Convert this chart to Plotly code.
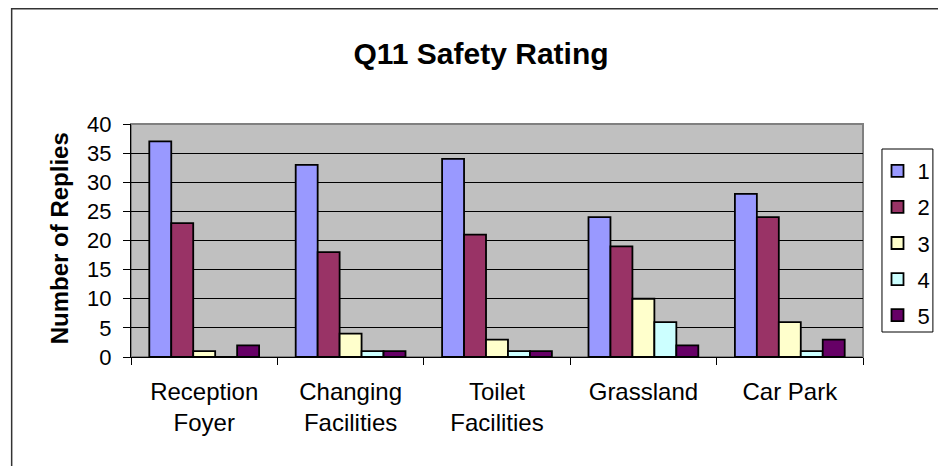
import plotly.graph_objects as go

# Data
categories = ["Reception<br>Foyer", "Changing<br>Facilities", "Toilet<br>Facilities", "Grassland", "Car Park"]
rating_1 = [37, 33, 34, 24, 28]
rating_2 = [23, 18, 21, 19, 24]
rating_3 = [1, 4, 3, 10, 6]
rating_4 = [0, 1, 1, 6, 1]
rating_5 = [2, 1, 1, 2, 3]
series_names = ["1", "2", "3", "4", "5"]
y_ticks = [0, 5, 10, 15, 20, 25, 30, 35, 40]

COLORS = ["#9999FF", "#993366", "#FFFFCC", "#CCFFFF", "#660066"]
FONT = "Liberation Sans, Arial, sans-serif"

# the page body adds an 8px margin, so the figure is laid out 8px up/left
W, H = 938, 458
L, T = 123, 116
PW, PH = 733, 233

fig = go.Figure()
for i, (name, values) in enumerate(zip(series_names, [rating_1, rating_2, rating_3, rating_4, rating_5])):
    fig.add_trace(
        go.Bar(
            x=categories,
            y=values,
            name=name,
            legendgroup=name,
            marker=dict(color=COLORS[i], line=dict(color="black", width=1.8)),
        )
    )

fig.update_layout(
    width=W,
    height=H,
    barmode="group",
    bargap=0.25,
    bargroupgap=0,
    paper_bgcolor="white",
    plot_bgcolor="#C0C0C0",
    margin=dict(l=L, r=W - L - PW, t=T, b=H - T - PH, pad=0),
    font=dict(family=FONT, size=22, color="black"),
    title=dict(
        text="<b>Q11 Safety Rating</b>",
        x=473 / W,
        xanchor="center",
        y=1 - 45 / H,
        yanchor="middle",
        font=dict(family=FONT, size=30, color="black"),
    ),
    legend=dict(
        x=(877.5 - 131) / PW,
        y=1 - (150 - 124) / PH,
        xanchor="left",
        yanchor="top",
        bgcolor="rgba(0,0,0,0)",
        borderwidth=0,
        tracegroupgap=4.5,
        font=dict(family=FONT, size=22),
    ),
    showlegend=True,
)

fig.update_yaxes(
    range=[0, 40],
    tickvals=y_ticks,
    showgrid=True,
    gridcolor="black",
    gridwidth=1,
    showline=True,
    linecolor="black",
    linewidth=1,
    ticks="outside",
    ticklen=7,
    tickcolor="black",
    ticklabelstandoff=7,
    tickfont=dict(size=22),
    zeroline=False,
)
fig.update_xaxes(
    showline=True,
    linecolor="black",
    linewidth=1,
    ticks="outside",
    tickson="boundaries",
    ticklen=7,
    tickcolor="black",
    ticklabelstandoff=13,
    tickfont=dict(size=24),
    showgrid=False,
)

# y axis title placed as an annotation
fig.add_annotation(
    text="<b>Number of Replies</b>",
    textangle=-90,
    xref="paper",
    yref="paper",
    x=(59 - 131) / PW,
    y=0.51,
    xanchor="center",
    yanchor="middle",
    showarrow=False,
    font=dict(family=FONT, size=24, color="black"),
)

# plot area border (gray)
fig.add_shape(type="rect", xref="paper", yref="paper", x0=0, y0=0, x1=1, y1=1,
              line=dict(color="#808080", width=2), layer="below")
# legend box
fig.add_shape(type="rect", xref="paper", yref="paper",
              x0=(883 - 131) / PW, x1=(934 - 131) / PW,
              y0=1 - (332 - 124) / PH, y1=1 - (149 - 124) / PH,
              line=dict(color="black", width=1), fillcolor="white", layer="below")
# outer chart border
fig.add_shape(type="rect", xref="paper", yref="paper",
              x0=(3.5 - L) / PW, y0=-0.6, x1=1.2, y1=1 + (T - 0.75) / PH,
              line=dict(color="#333333", width=1.5))

fig.write_html("out.html")
